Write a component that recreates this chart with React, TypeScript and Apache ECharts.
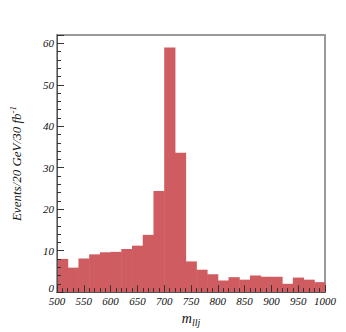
import React, { useEffect, useRef } from "react";
import * as echarts from "echarts";

const binEdges = [500, 520, 540, 560, 580, 600, 620, 640, 660, 680, 700, 720, 740, 760, 780, 800, 820, 840, 860, 880, 900, 920, 940, 960, 980, 1000];
const counts = [8.0, 5.9, 8.1, 9.1, 9.6, 9.7, 10.4, 11.2, 13.8, 24.4, 59.0, 33.6, 7.4, 5.4, 4.3, 2.8, 3.6, 3.0, 4.0, 3.7, 3.7, 2.0, 3.5, 3.0, 2.4];
const xTicks = [500, 550, 600, 650, 700, 750, 800, 850, 900, 950, 1000];
const yTicks = [0, 10, 20, 30, 40, 50, 60];

const font = "'Liberation Serif', 'DejaVu Serif', serif";
const lbl = { fontFamily: font, fontStyle: "italic", fontSize: 11, color: "#111" };

export default function App() {
  const ref = useRef<HTMLDivElement>(null);
  useEffect(() => {
    if (!ref.current) return;
    const chart = echarts.init(ref.current, null, { renderer: "svg" });
    const data = counts.map((c, i) => [binEdges[i], binEdges[i + 1], c]);
    chart.setOption({
      animation: false,
      grid: {
        left: 53,
        right: 21,
        top: 35,
        bottom: 36,
        show: true,
        borderColor: "#999",
        borderWidth: 2,
        backgroundColor: "transparent",
      },
      xAxis: {
        type: "value",
        z: 10,
        min: xTicks[0],
        max: xTicks[xTicks.length - 1],
        interval: 50,
        name: "{m|m}{s|llj}",
        nameLocation: "middle",
        nameGap: 16,
        nameTextStyle: {
          rich: {
            m: { fontFamily: font, fontStyle: "italic", fontSize: 14, color: "#111" },
            s: { fontFamily: font, fontStyle: "italic", fontSize: 10, color: "#111", verticalAlign: "bottom", padding: [8, 0, 0, 0] },
          },
        },
        axisLine: { show: true, lineStyle: { color: "#555", width: 1 } },
        axisTick: { show: true, inside: true, length: 7, lineStyle: { color: "#333" } },
        minorTick: { show: true, splitNumber: 5, length: 4, lineStyle: { color: "#333" } },
        splitLine: { show: false },
        axisLabel: { ...lbl, margin: 3, formatter: (v: number) => String(v) },
      },
      yAxis: {
        type: "value",
        z: 10,
        min: 0,
        max: 62,
        interval: 10,
        name: "{a|Events/20 GeV/30 fb}{s|-1}",
        nameLocation: "middle",
        nameRotate: 90,
        nameGap: 32,
        nameTextStyle: {
          rich: {
            a: { fontFamily: font, fontStyle: "italic", fontSize: 13, color: "#111" },
            s: { fontFamily: font, fontStyle: "italic", fontSize: 9, color: "#111", verticalAlign: "top", padding: [0, 0, 8, 0] },
          },
        },
        axisLine: { show: true, lineStyle: { color: "#555", width: 1 } },
        axisTick: { show: true, inside: true, length: 7, lineStyle: { color: "#333" } },
        minorTick: { show: true, splitNumber: 5, length: 4, lineStyle: { color: "#333" } },
        splitLine: { show: false },
        axisLabel: {
          ...lbl,
          margin: 3,
          formatter: (v: number) => (v === 0 ? "{z|0}" : yTicks.includes(v) ? String(v) : ""),
          rich: { z: { ...lbl, padding: [0, 0, 9, 0] } },
        },
      },
      series: [
        {
          type: "custom",
          data,
          encode: { x: [0, 1], y: 2 },
          renderItem: (params: any, api: any) => {
            const p0 = api.coord([api.value(0), 0]);
            const p1 = api.coord([api.value(1), api.value(2)]);
            return {
              type: "rect",
              shape: { x: p0[0], y: p1[1], width: p1[0] - p0[0] + 0.5, height: p0[1] - p1[1] },
              style: { fill: "#cf5c60" },
            };
          },
          z: 1,
        },
      ],
    });
    return () => chart.dispose();
  }, []);
  return <div ref={ref} style={{ width: 346, height: 332, position: "absolute", left: 0, top: 0, background: "#fff" }} />;
}
